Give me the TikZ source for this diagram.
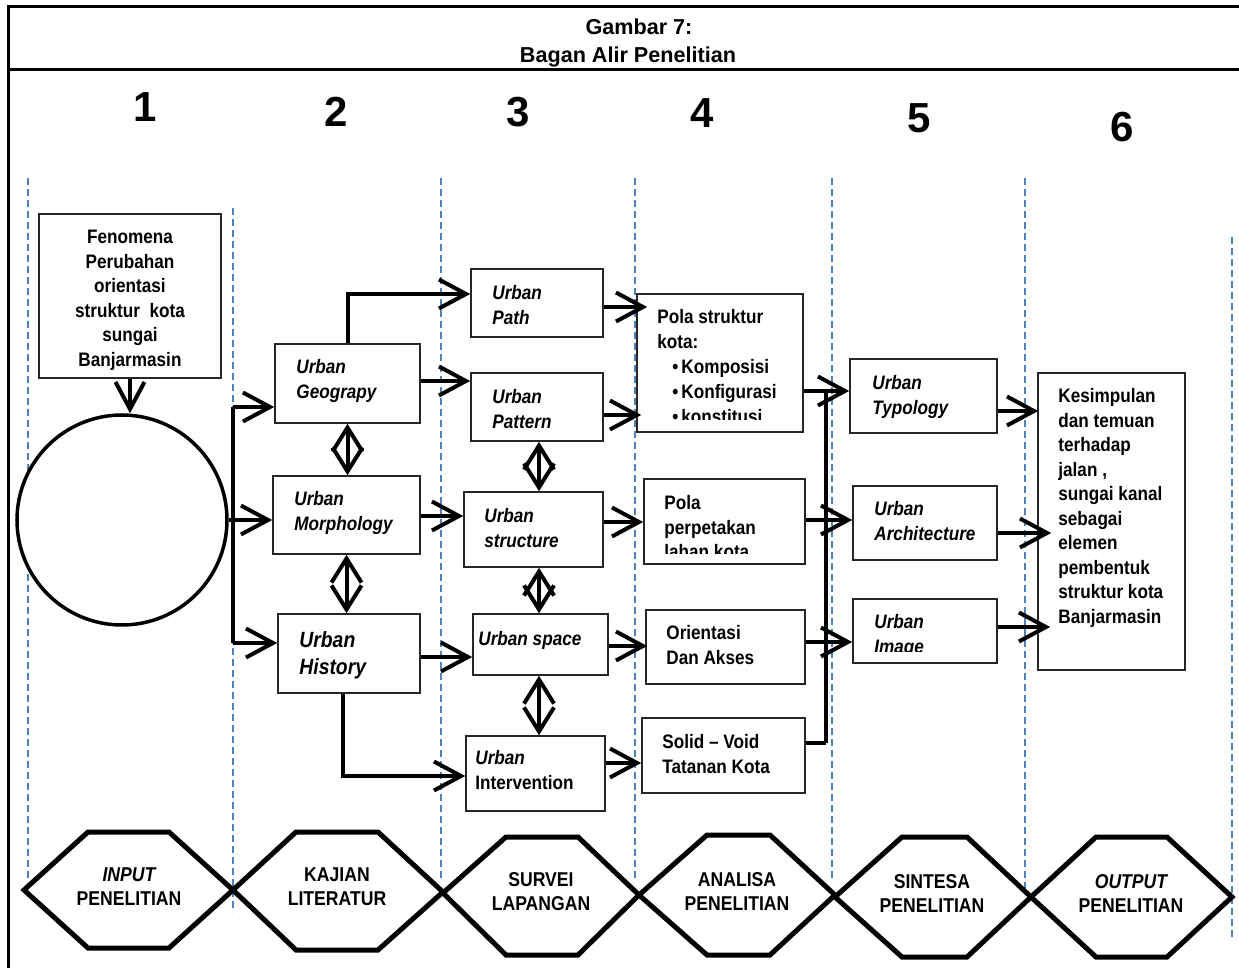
\documentclass[tikz,border=0pt]{standalone}
\usepackage{fontspec}
\setmainfont{Liberation Sans}
\newfontfamily\narrowsans{Liberation Sans}[FakeStretch=0.88]
\usetikzlibrary{arrows.meta,fit}

\definecolor{guideblue}{HTML}{4F81BD}
\newcommand\bodyfont{\narrowsans\bfseries\fontsize{9.75pt}{12.25pt}\selectfont}
\newcommand\bigbodyfont{\narrowsans\bfseries\fontsize{11pt}{13.5pt}\selectfont}

\tikzset{
  frame/.style={line width=1.5pt},
  guide/.style={draw=guideblue, line width=0.75pt, dash pattern=on 3.5pt off 2pt},
  box/.style={draw=black!85, line width=0.8pt, inner sep=0pt, fill=white},
  conn/.style={line width=2pt},
  arr/.style={line width=2pt, -{Straight Barb[length=13.5pt,width=14.5pt]}},
  dbl/.style={line width=2pt, {Straight Barb[length=12pt,width=15pt]}-{Straight Barb[length=12pt,width=15pt]}},
  hexa/.style={line width=2.5pt, fill=white, line join=miter},
  txt/.style={anchor=north west, inner sep=0pt, align=left, font=\bodyfont,
    execute at begin node={\rule{0pt}{7.5pt}}},
  ctxt/.style={anchor=north, inner sep=0pt, align=center, font=\bodyfont,
    execute at begin node={\rule{0pt}{7.5pt}}},
  hextxt/.style={inner sep=0pt, align=center,
    font=\narrowsans\bfseries\fontsize{10pt}{12pt}\selectfont,
    execute at begin node={\rule{0pt}{7.5pt}}},
  digit/.style={anchor=base, inner sep=0pt, font=\bfseries\fontsize{21pt}{25pt}\selectfont},
  title/.style={anchor=base, inner sep=0pt, font=\bfseries\fontsize{10.8pt}{14pt}\selectfont},
}

\begin{document}
\begin{tikzpicture}[x=0.5pt,y=-0.5pt]
\useasboundingbox (0,0) rectangle (1239,968);

% outer frame and title band
\draw[frame] (1239,7) -- (8,7) -- (8,968);
\draw[frame] (8,70) -- (1239,70);
\node[title] (hdr1) at (639,35) {Gambar 7:};
\node[title] (hdr2) at (628,63) {Bagan Alir Penelitian};

% stage numbers
\node[digit] (d1) at (145,122) {1};
\node[digit] (d2) at (336,127) {2};
\node[digit] (d3) at (518,127) {3};
\node[digit] (d4) at (702,128) {4};
\node[digit] (d5) at (919,133) {5};
\node[digit] (d6) at (1122,142) {6};

% column separators
\draw[guide] (28,178) -- (28,882);
\draw[guide] (233,208) -- (233,912);
\draw[guide] (441,178) -- (441,882);
\draw[guide] (635,178) -- (635,882);
\draw[guide] (832,178) -- (832,882);
\draw[guide] (1025,178) -- (1025,890);
\draw[guide] (1232,237) -- (1232,940);

% boxes
\node[box, fit={(39,214) (221,378)}] (fen) {};
\node[circle, draw, line width=1.75pt, fill=white, minimum size=105pt, inner sep=0pt] (circ) at (122,520) {};

\node[box, fit={(275,344) (420,423)}] (geo) {};
\node[box, fit={(273,476) (420,554)}] (morph) {};
\node[box, fit={(278,614) (420,693)}] (hist) {};

\node[box, fit={(471,269) (603,337)}] (path) {};
\node[box, fit={(471,373) (603,441)}] (pat) {};
\node[box, fit={(464,492) (603,567)}] (str) {};
\node[box, fit={(473,614) (608,675)}] (spc) {};
\node[box, fit={(466,736) (605,811)}] (int) {};

\node[box, fit={(637,294) (803,432)}] (pola1) {};
\node[box, fit={(644,479) (805,564)}] (pp) {};
\node[box, fit={(646,610) (805,684)}] (ori) {};
\node[box, fit={(642,718) (805,793)}] (sol) {};

\node[box, fit={(850,359) (997,433)}] (typ) {};
\node[box, fit={(853,486) (997,560)}] (arch) {};
\node[box, fit={(853,599) (997,663)}] (img) {};

\node[box, fit={(1038,373) (1185,670)}] (kes) {};

% box texts
\node[ctxt] (fen-t) at (130,230) {Fenomena\\Perubahan\\orientasi\\struktur\ \ kota\\sungai\\Banjarmasin};

\node[txt] (geo-t) at (296,359) {\itshape Urban\\\itshape Geograpy};
\node[txt] (morph-t) at (294,491) {\itshape Urban\\\itshape Morphology};
\node[txt, font=\bigbodyfont, execute at begin node={\rule{0pt}{8.5pt}}] (hist-t) at (299,631) {\itshape Urban\\\itshape History};

\node[txt] (path-t) at (492,285) {\itshape Urban\\\itshape Path};
\node[txt, font=\narrowsans\bfseries\fontsize{9.75pt}{12.5pt}\selectfont] (pat-t) at (492,389) {\itshape Urban\\\itshape Pattern};
\node[txt] (str-t) at (484,508) {\itshape Urban\\\itshape structure};
\node[txt] (spc-t) at (478,630) {\itshape Urban space};
\node[txt] (int-t) at (475,750) {\itshape Urban\\Intervention};

\begin{scope}
  \clip (639,296) rectangle (801,420);
  \node[txt, font=\narrowsans\bfseries\fontsize{9.75pt}{12.5pt}\selectfont] (pola1-t) at (657,309)
    {Pola struktur\\kota:\\\hspace*{7.5pt}\makebox[4.5pt][l]{•}Komposisi\\\hspace*{7.5pt}\makebox[4.5pt][l]{•}Konfigurasi\\\hspace*{7.5pt}\makebox[4.5pt][l]{•}konstitusi};
\end{scope}
\begin{scope}
  \clip (646,481) rectangle (803,554);
  \node[txt] (pp-t) at (664,495) {Pola\\perpetakan\\lahan kota};
\end{scope}
\node[txt] (ori-t) at (666,625) {Orientasi\\Dan Akses};
\node[txt] (sol-t) at (662,734) {Solid – Void\\Tatanan Kota};

\node[txt] (typ-t) at (872,375) {\itshape Urban\\\itshape Typology};
\node[txt] (arch-t) at (874,501) {\itshape Urban\\\itshape Architecture};
\begin{scope}
  \clip (855,601) rectangle (995,652);
  \node[txt] (img-t) at (874,614) {\itshape Urban\\\itshape Image};
\end{scope}

\node[txt] (kes-t) at (1058,388) {Kesimpulan\\dan temuan\\terhadap\\jalan ,\\sungai kanal\\sebagai\\elemen\\pembentuk\\struktur kota\\Banjarmasin};

% connector levels
\coordinate (ySp1) at (0,407);
\coordinate (ySp3) at (0,643);
\coordinate (yGP) at (0,294);
\coordinate (yGPat) at (0,381);
\coordinate (yMS) at (0,516);
\coordinate (yHS) at (0,657);
\coordinate (yHI) at (0,776);
\coordinate (yPath) at (0,307);
\coordinate (yPat) at (0,415);
\coordinate (yStr) at (0,522);
\coordinate (ySpc) at (0,646);
\coordinate (yInt) at (0,763);
\coordinate (yTyp) at (0,391);
\coordinate (yArc) at (0,520);
\coordinate (yImg) at (0,642);
\coordinate (ySol) at (0,743);
\coordinate (yTK) at (0,411);
\coordinate (yAK) at (0,533);
\coordinate (yIK) at (0,627);
\coordinate (xSpine) at (233,0);
\coordinate (xHist) at (343,0);
\coordinate (xMid) at (539,0);
\coordinate (xColl) at (826,0);

% input to literature
\draw[arr] (fen.south) -- (fen.south |- circ.north);
\draw[conn] (xSpine |- ySp1) -- (xSpine |- ySp3);
\draw[arr] (xSpine |- ySp1) -- (geo.west |- ySp1);
\draw[arr] (circ.east) -- (morph.west |- circ.east);
\draw[arr] (xSpine |- ySp3) -- (hist.west |- ySp3);

% literature to survey
\draw[arr] (geo.north) |- (path.west |- yGP);
\draw[arr] (geo.east |- yGPat) -- (pat.west |- yGPat);
\draw[arr] (morph.east |- yMS) -- (str.west |- yMS);
\draw[arr] (hist.east |- yHS) -- (spc.west |- yHS);
\draw[arr] (xHist |- hist.south) |- (int.west |- yHI);

% links within columns
\draw[dbl] (geo.south) -- (geo.south |- morph.north);
\draw[dbl] (morph.south) -- (morph.south |- hist.north);
\draw[dbl] (xMid |- pat.south) -- (xMid |- str.north);
\draw[dbl] (xMid |- str.south) -- (xMid |- spc.north);
\draw[dbl] (xMid |- spc.south) -- (xMid |- int.north);

% survey to analysis
\draw[arr] (path.east |- yPath) -- ([xshift=5.5pt]pola1.west |- yPath);
\draw[arr] (pat.east |- yPat) -- ([xshift=2.5pt]pola1.west |- yPat);
\draw[arr] (str.east |- yStr) -- (pp.west |- yStr);
\draw[arr] (spc.east |- ySpc) -- ([xshift=1pt]ori.west |- ySpc);
\draw[arr] (int.east |- yInt) -- (sol.west |- yInt);

% analysis to synthesis
\draw[arr] (pola1.east |- yTyp) -- (typ.west |- yTyp);
\draw[conn] (xColl |- yTyp) -- (xColl |- ySol);
\draw[arr] (pp.east |- yArc) -- (arch.west |- yArc);
\draw[arr] (ori.east |- yImg) -- (img.west |- yImg);
\draw[conn] (sol.east |- ySol) -- (xColl |- ySol);

% synthesis to output
\draw[arr] (typ.east |- yTK) -- ([xshift=0.5pt]kes.west |- yTK);
\draw[arr] (arch.east |- yAK) -- ([xshift=7pt]kes.west |- yAK);
\draw[arr] (img.east |- yIK) -- ([xshift=6.5pt]kes.west |- yIK);

% stage hexagons
\draw[hexa] (24,890) -- (88,832) -- (169,832) -- (233,890) -- (169,948) -- (88,948) -- cycle;
\draw[hexa] (233,890) -- (296,832) -- (378,832) -- (443,892) -- (378,950) -- (296,950) -- cycle;
\draw[hexa] (443,893) -- (506,837) -- (578,837) -- (639,895) -- (578,955) -- (506,955) -- cycle;
\draw[hexa] (639,895) -- (707,835) -- (770,835) -- (835,895) -- (770,955) -- (707,955) -- cycle;
\draw[hexa] (835,897) -- (902,837) -- (967,837) -- (1031,897) -- (967,957) -- (902,957) -- cycle;
\draw[hexa] (1031,897) -- (1096,837) -- (1167,837) -- (1232,897) -- (1167,957) -- (1096,957) -- cycle;

\node[hextxt] (h1) at (129,887) {\itshape INPUT\\PENELITIAN};
\node[hextxt] (h2) at (337,887) {KAJIAN\\LITERATUR};
\node[hextxt] (h3) at (541,892) {SURVEI\\LAPANGAN};
\node[hextxt] (h4) at (737,892) {ANALISA\\PENELITIAN};
\node[hextxt] (h5) at (932,894) {SINTESA\\PENELITIAN};
\node[hextxt] (h6) at (1131,894) {\itshape OUTPUT\\PENELITIAN};
\end{tikzpicture}
\end{document}
